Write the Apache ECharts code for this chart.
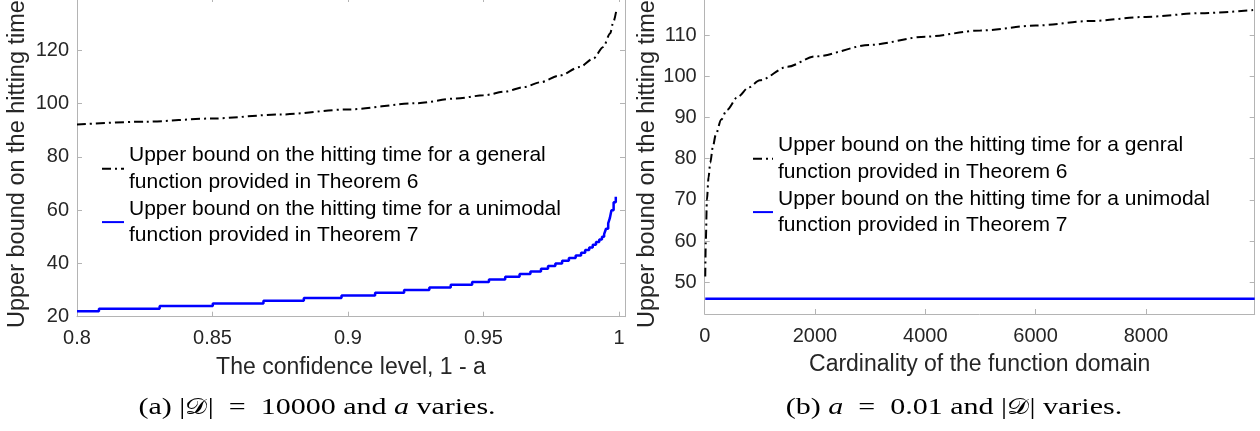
<!DOCTYPE html>
<html><head><meta charset="utf-8">
<script src="https://cdn.jsdelivr.net/npm/echarts@6/dist/echarts.min.js"></script>
<style>html,body{margin:0;padding:0;background:#fff;}#c{width:1260px;height:431px;}</style>
</head><body><div id="c"></div>
<script>
// ---- data ----
const confLevel      = [0.800, 0.825, 0.850, 0.875, 0.900, 0.925, 0.940, 0.950, 0.958, 0.965, 0.971, 0.978, 0.9855, 0.9905, 0.9942, 0.9967, 0.9979, 0.9989];
const generalVsConf  = [92.1, 93.2, 94.4, 95.9, 97.8, 100.1, 101.9, 103.1, 104.5, 106.2, 108.0, 110.5, 113.7, 116.9, 121.2, 126.3, 130.6, 134.4];

const unimodalConf   = [0.8, 0.8081, 0.8305, 0.8501, 0.8688, 0.8837, 0.8976, 0.9100, 0.9207, 0.9300, 0.9379, 0.9458, 0.9520, 0.9580, 0.9633, 0.9673, 0.9712, 0.9738, 0.9765, 0.9790, 0.9815, 0.9840, 0.9860, 0.9875, 0.9890, 0.9903, 0.9915, 0.9927, 0.9937, 0.9945, 0.9952, 0.9960, 0.9966, 0.9972, 0.9980, 0.9988];
const unimodalVsConf = [22, 23, 24, 25, 26, 27, 28, 29, 30, 31, 32, 33, 34, 35, 36, 37, 38, 39, 40, 41, 42, 43, 44, 45, 46, 47, 48, 49, 50, 51, 53, 55, 57, 60, 63, 65];

const domainSize       = [10, 20, 40, 70, 100, 150, 200, 300, 400, 600, 800, 1000, 1500, 2000, 3000, 4000, 5000, 6000, 7000, 8000, 9000, 9973];
const generalVsDomain  = [51.4, 60, 70, 75.5, 79, 83, 85.8, 89.5, 91.8, 95, 97.3, 99, 102.3, 104.8, 107.6, 109.6, 111.1, 112.3, 113.4, 114.4, 115.3, 116.1];
const unimodalVsDomain = [46, 46, 46, 46, 46, 46, 46, 46, 46, 46, 46, 46, 46, 46, 46, 46, 46, 46, 46, 46, 46, 46];

const confTicks   = [0.8, 0.85, 0.9, 0.95, 1];
const domainTicks = [0, 2000, 4000, 6000, 8000];
const leftYTicks  = [20, 40, 60, 80, 100, 120];
const rightYTicks = [50, 60, 70, 80, 90, 100, 110];

const nameA1 = 'Upper bound on the hitting time for a general\nfunction provided in Theorem 6';
const nameA2 = 'Upper bound on the hitting time for a unimodal\nfunction provided in Theorem 7';
const nameB1 = 'Upper bound on the hitting time for a genral\nfunction provided in Theorem 6';
const nameB2 = 'Upper bound on the hitting time for a unimodal\nfunction provided in Theorem 7';
const yTitle = 'Upper bound on the hitting time';

// ---- styling ----
const SANS = 'Liberation Sans, Arial, Helvetica, sans-serif';
const SERIF = 'Liberation Serif, Times New Roman, serif';
const AX = '#b4b4b4';
const TXT = '#262626';
const pairs = (xs, ys) => xs.map((x, i) => [x, ys[i]]);

function xAx(grid, min, max, ticks, pos, showLabel, name) {
  return {
    type: 'value', gridIndex: grid, min: min, max: max, position: pos,
    axisLine: { show: true, onZero: false, lineStyle: { color: AX, width: 1 } },
    axisTick: { show: true, inside: true, length: 5, customValues: ticks, lineStyle: { color: AX } },
    axisLabel: { show: showLabel, customValues: ticks, margin: 12, color: TXT, fontSize: 20, fontFamily: SANS,
      formatter: v => String(v) },
    splitLine: { show: false },
    name: name || '', nameLocation: 'middle', nameGap: 39,
    nameTextStyle: { color: TXT, fontSize: 23, fontFamily: SANS }
  };
}
function yAx(grid, min, max, ticks, pos, showLabel) {
  return {
    type: 'value', gridIndex: grid, min: min, max: max, position: pos,
    axisLine: { show: true, onZero: false, lineStyle: { color: AX, width: 1 } },
    axisTick: { show: true, inside: true, length: 5, customValues: ticks, lineStyle: { color: AX } },
    axisLabel: { show: showLabel, customValues: ticks, margin: 8, color: TXT, fontSize: 20, fontFamily: SANS,
      formatter: v => String(v) },
    splitLine: { show: false }
  };
}
const dashDot = [9, 4, 2, 4];
function legendCfg(left, top, iw, names) {
  return {
    orient: 'vertical', left: left, top: top, padding: 0, itemGap: 0, itemWidth: iw, itemHeight: 14,
    data: names, selectedMode: false,
    itemStyle: { opacity: 0, color: 'transparent', borderWidth: 0 },
    textStyle: { color: '#000', fontSize: 21, lineHeight: 26.7, fontFamily: SANS }
  };
}

const chart = echarts.init(document.getElementById('c'), null, { renderer: 'canvas' });
chart.setOption({
  animation: false,
  backgroundColor: '#fff',
  grid: [
    { left: 77, top: -3, width: 548, height: 319.7, show: false, outerBoundsMode: 'none', containLabel: false },
    { left: 704.7, top: -6.2, width: 550, height: 320.2, show: false, outerBoundsMode: 'none', containLabel: false }
  ],
  xAxis: [
    xAx(0, 0.8, 1.0022, confTicks, 'bottom', true, 'The confidence level, 1 - a'),
    xAx(0, 0.8, 1.0022, confTicks, 'top', false),
    xAx(1, 0, 9973, domainTicks, 'bottom', true, 'Cardinality of the function domain'),
    xAx(1, 0, 9973, domainTicks, 'top', false)
  ],
  yAxis: [
    yAx(0, 20, 140, leftYTicks, 'left', true),
    yAx(0, 20, 140, leftYTicks, 'right', false),
    yAx(1, 42.31, 120, rightYTicks, 'left', true),
    yAx(1, 42.31, 120, rightYTicks, 'right', false)
  ],
  legend: [
    legendCfg(101, 142, 22, [nameA1, nameA2]),
    legendCfg(752, 132, 20, [nameB1, nameB2])
  ],
  series: [
    { name: nameA1, type: 'line', xAxisIndex: 0, yAxisIndex: 0, symbol: 'none', smooth: 0.3, smoothMonotone: 'x',
      data: pairs(confLevel, generalVsConf), lineStyle: { color: '#000', width: 2, type: dashDot }, itemStyle: { color: '#000' } },
    { name: nameA2, type: 'line', xAxisIndex: 0, yAxisIndex: 0, symbol: 'none', step: 'end',
      data: pairs(unimodalConf, unimodalVsConf), lineStyle: { color: '#0000ff', width: 2.5 }, itemStyle: { color: '#0000ff' } },
    { name: nameB1, type: 'line', xAxisIndex: 2, yAxisIndex: 2, symbol: 'none', smooth: 0.3, smoothMonotone: 'x',
      data: pairs(domainSize, generalVsDomain), lineStyle: { color: '#000', width: 2, type: dashDot }, itemStyle: { color: '#000' } },
    { name: nameB2, type: 'line', xAxisIndex: 2, yAxisIndex: 2, symbol: 'none',
      data: pairs(domainSize, unimodalVsDomain), lineStyle: { color: '#0000ff', width: 2.5 }, itemStyle: { color: '#0000ff' } }
  ],
  graphic: [
    { type: 'text', x: 18, y: 328, rotation: Math.PI / 2,
      style: { text: yTitle, align: 'left', verticalAlign: 'middle', fill: TXT, font: '23.5px ' + SANS } },
    { type: 'text', x: 648, y: 328, rotation: Math.PI / 2,
      style: { text: yTitle, align: 'left', verticalAlign: 'middle', fill: TXT, font: '23.5px ' + SANS } },
    { type: 'text', x: 317, y: 408, scaleX: 1.25,
      style: { text: '(a) |{c|𝒟}|\u2002=\u200210000 and {i|a} varies.', align: 'center', verticalAlign: 'middle', fill: '#000',
        font: '24px ' + SERIF,
        rich: { c: { fontSize: 22, fontFamily: 'DejaVu Serif, serif' }, i: { fontSize: 24, fontFamily: SERIF, fontStyle: 'italic' } } } },
    { type: 'text', x: 954, y: 408, scaleX: 1.25,
      style: { text: '(b) {i|a}\u2002=\u20020.01 and |{c|𝒟}| varies.', align: 'center', verticalAlign: 'middle', fill: '#000',
        font: '24px ' + SERIF,
        rich: { c: { fontSize: 22, fontFamily: 'DejaVu Serif, serif' }, i: { fontSize: 24, fontFamily: SERIF, fontStyle: 'italic' } } } }
  ]
});
</script>
</body></html>
